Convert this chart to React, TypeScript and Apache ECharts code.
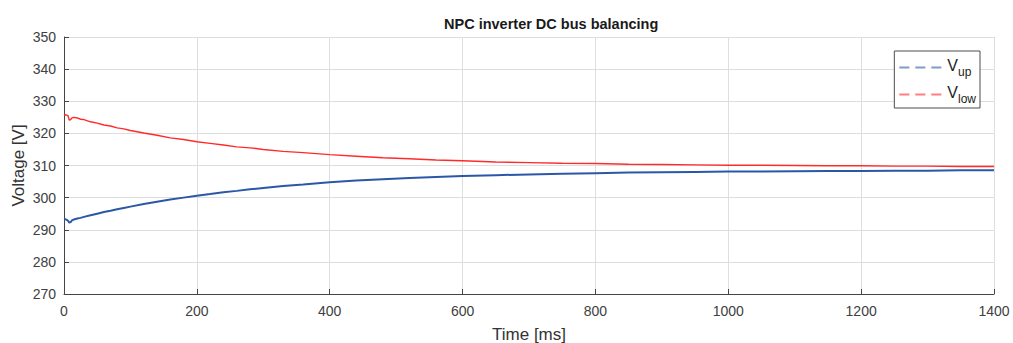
import React, { useEffect, useRef } from "react";
import * as echarts from "echarts";

const timeMs = [0, 2, 4, 6, 8, 10, 12, 15, 20, 25, 30, 40, 50, 60, 70, 80, 90, 100, 120, 140, 160, 180, 200, 220, 240, 260, 280, 300, 330, 360, 400, 440, 480, 520, 560, 600, 650, 700, 750, 800, 850, 900, 950, 1000, 1050, 1100, 1150, 1200, 1250, 1300, 1350, 1400];
const vLow = [325.6, 325.8, 325.7, 325.5, 324.1, 324.3, 324.8, 325.0, 324.8, 324.4, 324.3, 323.6, 323.2, 322.6, 322.3, 321.7, 321.4, 320.9, 320.1, 319.4, 318.6, 318.1, 317.4, 316.9, 316.4, 315.8, 315.5, 315.0, 314.4, 314.0, 313.4, 312.9, 312.4, 312.1, 311.7, 311.5, 311.1, 310.9, 310.7, 310.6, 310.4, 310.3, 310.2, 310.1, 310.1, 310.0, 309.9, 309.9, 309.8, 309.8, 309.7, 309.7];
const vUp = [293.2, 293.3, 293.1, 292.8, 292.2, 292.4, 292.9, 293.2, 293.5, 293.7, 294.0, 294.5, 295.0, 295.5, 295.9, 296.4, 296.8, 297.2, 298.0, 298.7, 299.4, 300.0, 300.6, 301.1, 301.7, 302.1, 302.6, 303.0, 303.6, 304.1, 304.8, 305.3, 305.7, 306.1, 306.4, 306.7, 307.0, 307.2, 307.4, 307.6, 307.8, 307.9, 308.0, 308.1, 308.1, 308.2, 308.3, 308.3, 308.4, 308.4, 308.5, 308.5];

const seriesNames = ["V_up", "V_low"];
const seriesColors = ["#2b57a7", "#ff2b2b"];

const FONT = "Liberation Sans, Arial, sans-serif";
const DASH_ICON = "path://M0,0h10v2h-10z M16,0h10v2h-10z M32,0h10v2h-10z";

export default function App() {
  const ref = useRef<HTMLDivElement>(null);
  useEffect(() => {
    if (!ref.current) return;
    const chart = echarts.init(ref.current, null, { renderer: "svg" });
    const pair = (ys: number[]) => timeMs.map((t, i) => [t, ys[i]]);
    chart.setOption({
      animation: false,
      backgroundColor: "#ffffff",
      textStyle: { fontFamily: FONT },
      title: {
        text: "NPC inverter DC bus balancing",
        left: 439,
        top: 11,
        textStyle: { fontSize: 14.5, fontWeight: "bold", color: "#1a1a1a", fontFamily: FONT },
      },
      grid: { left: 64, right: 19, top: 37, bottom: 49, containLabel: false, outerBoundsMode: "none" },
      legend: {
        right: 33,
        top: 51,
        orient: "vertical",
        backgroundColor: "#ffffff",
        borderColor: "#4d4d4d",
        borderWidth: 1,
        borderRadius: 0,
        padding: [6, 4, 3, 5],
        itemGap: 6,
        itemWidth: 44,
        itemHeight: 2,
        icon: DASH_ICON,
        data: seriesNames.map((n, i) => ({
          name: n,
          itemStyle: { color: seriesColors[i], opacity: 0.6 },
        })),
        formatter: (name: string) => {
          const parts = name.split("_");
          return `{v|${parts[0]}}{s|${parts[1]}}`;
        },
        textStyle: {
          color: "#222",
          rich: {
            v: { fontSize: 16, fontFamily: FONT, color: "#222", padding: [0, 0, 5, 0] },
            s: { fontSize: 12, fontFamily: FONT, color: "#222", padding: [9, 0, 0, 0] },
          },
        },
      },
      xAxis: {
        type: "value",
        min: 0,
        max: 1400,
        interval: 200,
        name: "Time [ms]",
        nameLocation: "middle",
        nameGap: 32,
        nameTextStyle: { fontSize: 17, color: "#333", fontFamily: FONT },
        axisLine: { show: true, lineStyle: { color: "#454545", width: 1 } },
        axisTick: { show: true, inside: true, length: 5, lineStyle: { color: "#454545" } },
        axisLabel: { fontSize: 14, color: "#404040", margin: 10, fontFamily: FONT, formatter: (v: number) => String(v) },
        splitLine: { show: true, lineStyle: { color: "#dedede", width: 1 } },
      },
      yAxis: {
        type: "value",
        min: 270,
        max: 350,
        interval: 10,
        name: "Voltage [V]",
        nameLocation: "middle",
        nameGap: 37,
        nameMoveOverlap: false,
        nameRotate: 90,
        nameTextStyle: { fontSize: 17, color: "#333", fontFamily: FONT },
        axisLine: { show: true, lineStyle: { color: "#454545", width: 1 } },
        axisTick: { show: true, inside: true, length: 5, lineStyle: { color: "#454545" } },
        axisLabel: { fontSize: 14, color: "#404040", margin: 8, fontFamily: FONT },
        splitLine: { show: true, lineStyle: { color: "#dedede", width: 1 } },
      },
      series: [
        {
          name: seriesNames[0],
          type: "line",
          data: pair(vUp),
          showSymbol: false,
          symbol: "none",
          lineStyle: { color: seriesColors[0], width: 2 },
          itemStyle: { color: seriesColors[0] },
        },
        {
          name: seriesNames[1],
          type: "line",
          data: pair(vLow),
          showSymbol: false,
          symbol: "none",
          lineStyle: { color: seriesColors[1], width: 1.4 },
          itemStyle: { color: seriesColors[1] },
        },
      ],
    });
    return () => chart.dispose();
  }, []);
  return (
    <div
      ref={ref}
      style={{ position: "fixed", left: 0, top: 0, width: 1013, height: 343 }}
    />
  );
}
